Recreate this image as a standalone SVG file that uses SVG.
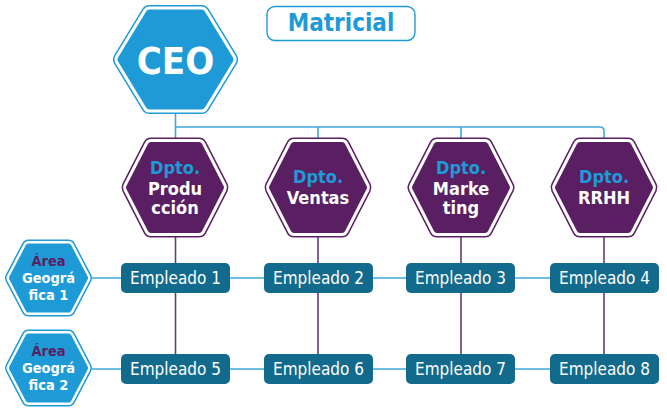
<svg xmlns="http://www.w3.org/2000/svg" xmlns:xlink="http://www.w3.org/1999/xlink" width="667" height="409" viewBox="0 0 667 409">
<style>
.bg{fill:#ffffff}
.t{font-family:"DejaVu Sans Condensed","Liberation Sans Narrow","Roboto Condensed","DejaVu Sans",sans-serif;font-stretch:condensed;text-anchor:middle}
.b{font-weight:bold}
.w{fill:#ffffff}
.lb{fill:#1e9ad6}
.pu{fill:#5a1f63}
.blueA{fill:none;stroke:#1e9ad6;stroke-linejoin:round}
.blueW{fill:none;stroke:#ffffff;stroke-linejoin:round}
.blueF{fill:#1e9ad6;stroke:#1e9ad6;stroke-linejoin:round}
.purA{fill:none;stroke:#5a1f63;stroke-linejoin:round}
.purF{fill:#5a1f63;stroke:#5a1f63;stroke-linejoin:round}
.emp{fill:#126a8c}
.cb{fill:none;stroke:#3fa8da;stroke-width:1.6}
.cp{fill:none;stroke:#6a3a78;stroke-width:1.6}
.at{font-size:14.5px}
</style>
<defs>
<polygon id="hL" points="-54,0 -26,-46 26,-46 54,0 26,46 -26,46"/>
<polygon id="hM" points="-45.5,0 -24,-42 24,-42 45.5,0 24,42 -24,42"/>
<polygon id="hS" points="-36.5,0 -20,-31.5 20,-31.5 36.5,0 20,31.5 -20,31.5"/>
</defs>
<rect class="bg" x="0" y="0" width="667" height="409"/>

<g id="connectors">
<path class="cb" d="M175.5,114 V138 M175.5,127 H600 Q604,127 604,131 V138 M318,127 V138 M461,127 V138"/>
<path class="cp" d="M175.5,236 V354 M318,236 V354 M461,236 V354 M604,236 V354"/>
<path class="cb" d="M92,278 H604 M92,369 H604"/>
</g>

<g id="titulo">
<rect x="267" y="6.5" width="148" height="34" rx="8" fill="#ffffff" stroke="#1e9ad6" stroke-width="1.4"/>
<text class="t b lb" x="341" y="31" font-size="24">Matricial</text>
</g>

<g id="ceo" transform="translate(175.5,59.5)">
<use xlink:href="#hL" class="blueA" stroke-width="17"/>
<use xlink:href="#hL" class="blueW" stroke-width="14"/>
<use xlink:href="#hL" class="blueF" stroke-width="8"/>
<text class="t b w" x="0" y="14" font-size="38">CEO</text>
</g>

<g id="dpto-produccion" transform="translate(175,187.5)">
<use xlink:href="#hM" class="purA" stroke-width="16"/>
<use xlink:href="#hM" class="blueW" stroke-width="13"/>
<use xlink:href="#hM" class="purF" stroke-width="7"/>
<text class="t b lb" x="0" y="-13.5" font-size="18">Dpto.</text>
<text class="t b w" x="0" y="7" font-size="18">Produ</text>
<text class="t b w" x="0" y="26.5" font-size="18">cción</text>
</g>

<g id="dpto-ventas" transform="translate(318,187.5)">
<use xlink:href="#hM" class="purA" stroke-width="16"/>
<use xlink:href="#hM" class="blueW" stroke-width="13"/>
<use xlink:href="#hM" class="purF" stroke-width="7"/>
<text class="t b lb" x="0" y="-4.5" font-size="18">Dpto.</text>
<text class="t b w" x="0" y="16.5" font-size="18">Ventas</text>
</g>

<g id="dpto-marketing" transform="translate(461,187.5)">
<use xlink:href="#hM" class="purA" stroke-width="16"/>
<use xlink:href="#hM" class="blueW" stroke-width="13"/>
<use xlink:href="#hM" class="purF" stroke-width="7"/>
<text class="t b lb" x="0" y="-13.5" font-size="18">Dpto.</text>
<text class="t b w" x="0" y="7" font-size="18">Marke</text>
<text class="t b w" x="0" y="26.5" font-size="18">ting</text>
</g>

<g id="dpto-rrhh" transform="translate(604,187.5)">
<use xlink:href="#hM" class="purA" stroke-width="16"/>
<use xlink:href="#hM" class="blueW" stroke-width="13"/>
<use xlink:href="#hM" class="purF" stroke-width="7"/>
<text class="t b lb" x="0" y="-4.5" font-size="18">Dpto.</text>
<text class="t b w" x="0" y="16" font-size="18">RRHH</text>
</g>

<g id="area-1" transform="translate(48.5,278)">
<use xlink:href="#hS" class="blueA" stroke-width="14"/>
<use xlink:href="#hS" class="blueW" stroke-width="11"/>
<use xlink:href="#hS" class="blueF" stroke-width="6"/>
<text class="t b pu at" x="0" y="-12">Área</text>
<text class="t b w at" x="0" y="5">Geográ</text>
<text class="t b w at" x="0" y="22">fica 1</text>
</g>

<g id="area-2" transform="translate(48.5,368)">
<use xlink:href="#hS" class="blueA" stroke-width="14"/>
<use xlink:href="#hS" class="blueW" stroke-width="11"/>
<use xlink:href="#hS" class="blueF" stroke-width="6"/>
<text class="t b pu at" x="0" y="-12">Área</text>
<text class="t b w at" x="0" y="5">Geográ</text>
<text class="t b w at" x="0" y="22">fica 2</text>
</g>

<g id="empleado-1"><rect class="emp" x="121" y="263" width="109" height="30" rx="5"/><text class="t w" x="175.5" y="284" font-size="17">Empleado 1</text></g>
<g id="empleado-2"><rect class="emp" x="264" y="263" width="109" height="30" rx="5"/><text class="t w" x="318.5" y="284" font-size="17">Empleado 2</text></g>
<g id="empleado-3"><rect class="emp" x="406" y="263" width="109" height="30" rx="5"/><text class="t w" x="460.5" y="284" font-size="17">Empleado 3</text></g>
<g id="empleado-4"><rect class="emp" x="550" y="263" width="109" height="30" rx="5"/><text class="t w" x="604.5" y="284" font-size="17">Empleado 4</text></g>
<g id="empleado-5"><rect class="emp" x="121" y="354" width="109" height="30" rx="5"/><text class="t w" x="175.5" y="375" font-size="17">Empleado 5</text></g>
<g id="empleado-6"><rect class="emp" x="264" y="354" width="109" height="30" rx="5"/><text class="t w" x="318.5" y="375" font-size="17">Empleado 6</text></g>
<g id="empleado-7"><rect class="emp" x="406" y="354" width="109" height="30" rx="5"/><text class="t w" x="460.5" y="375" font-size="17">Empleado 7</text></g>
<g id="empleado-8"><rect class="emp" x="550" y="354" width="109" height="30" rx="5"/><text class="t w" x="604.5" y="375" font-size="17">Empleado 8</text></g>
</svg>
